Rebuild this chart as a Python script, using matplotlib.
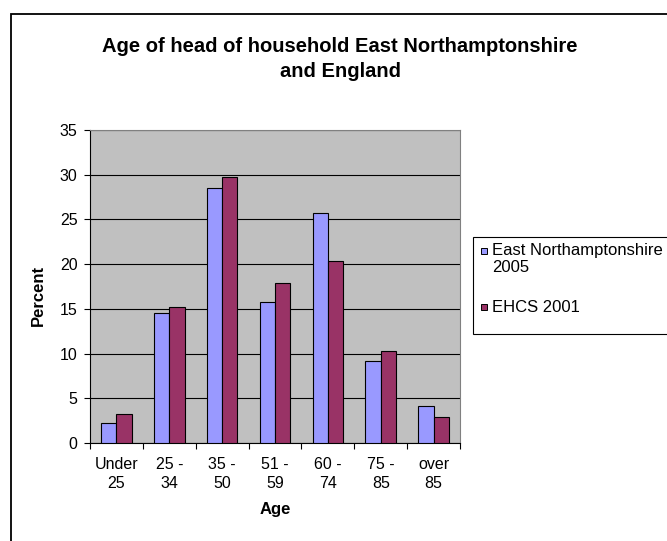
import matplotlib
matplotlib.use("Agg")
import matplotlib.pyplot as plt
from matplotlib.patches import Rectangle
import numpy as np

plt.rcParams['font.family'] = ['Liberation Sans', 'DejaVu Sans']

# data
ages = ["Under\n25", "25 -\n34", "35 -\n50", "51 -\n59", "60 -\n74", "75 -\n85", "over\n85"]
east_northants_2005 = [2.2, 14.5, 28.5, 15.8, 25.7, 9.2, 4.1]
ehcs_2001 = [3.2, 15.2, 29.8, 17.9, 20.4, 10.3, 2.9]
series_names = ["East Northamptonshire\n2005", "EHCS 2001"]

blue = "#9999FF"
maroon = "#993366"

W, H = 667, 541
fig = plt.figure(figsize=(W / 100, H / 100), dpi=100)

# outer chart border (runs off the right and bottom edges)
fig.patches.append(Rectangle((11 / W, -0.1), 1.2, 1.1 - 14 / H, transform=fig.transFigure,
                             fill=False, edgecolor="black", linewidth=1.3))

ax = fig.add_axes([90 / W, 1 - 443 / H, 370 / W, 313 / H])
ax.set_facecolor("#C0C0C0")

x = np.arange(len(ages))
w = 0.29
ax.bar(x - w / 2, east_northants_2005, w, color=blue, edgecolor="black", linewidth=0.8, zorder=3)
ax.bar(x + w / 2, ehcs_2001, w, color=maroon, edgecolor="black", linewidth=0.8, zorder=3)

ax.set_xlim(-0.5, len(ages) - 0.5)
ax.set_ylim(0, 35)
ax.set_yticks(range(0, 36, 5))
ax.yaxis.grid(True, color="black", linewidth=0.8, zorder=1)
ax.set_axisbelow(True)

# ticks at category boundaries, labels at centres
ax.set_xticks(np.arange(-0.5, len(ages), 1.0))
ax.set_xticklabels([])
ax.set_xticks(x, minor=True)
ax.set_xticklabels(ages, minor=True, fontsize=11.5, linespacing=1.35)
ax.tick_params(axis="x", which="minor", length=0, pad=10)
ax.tick_params(axis="x", which="major", length=4, width=0.8, direction="out")
ax.tick_params(axis="y", length=4, width=0.8, direction="out", labelsize=11.5, pad=5)

for s in ["top", "right"]:
    ax.spines[s].set_color("#808080")
    ax.spines[s].set_linewidth(0.8)
for s in ["left", "bottom"]:
    ax.spines[s].set_color("black")
    ax.spines[s].set_linewidth(0.8)

ax.set_xlabel("Age", fontsize=12, fontweight="bold", labelpad=8)
ax.set_ylabel("Percent", fontsize=12, fontweight="bold")
ax.yaxis.set_label_coords(-0.118, 0.473)

fig.text(340 / W, 1 - 59 / H, "Age of head of household East Northamptonshire\nand England",
         ha="center", va="center", fontsize=14.5, fontweight="bold", linespacing=1.35)

# legend, laid out like the Excel one (marker beside the first line of each entry)
fig.patches.append(Rectangle((473 / W, 1 - 334 / H), 0.5, 97 / H, transform=fig.transFigure,
                             facecolor="white", edgecolor="black", linewidth=0.8))
entry_y = [251, 307]
for name, colour, yc in zip(series_names, [blue, maroon], entry_y):
    fig.patches.append(Rectangle((481 / W, 1 - (yc + 3) / H), 6 / W, 6 / H,
                                 transform=fig.transFigure, facecolor=colour,
                                 edgecolor="black", linewidth=0.7))
    for i, line in enumerate(name.split("\n")):
        fig.text(492 / W, 1 - (yc + 17 * i) / H, line, ha="left", va="center", fontsize=12)

fig.savefig("out.png", dpi=100)
